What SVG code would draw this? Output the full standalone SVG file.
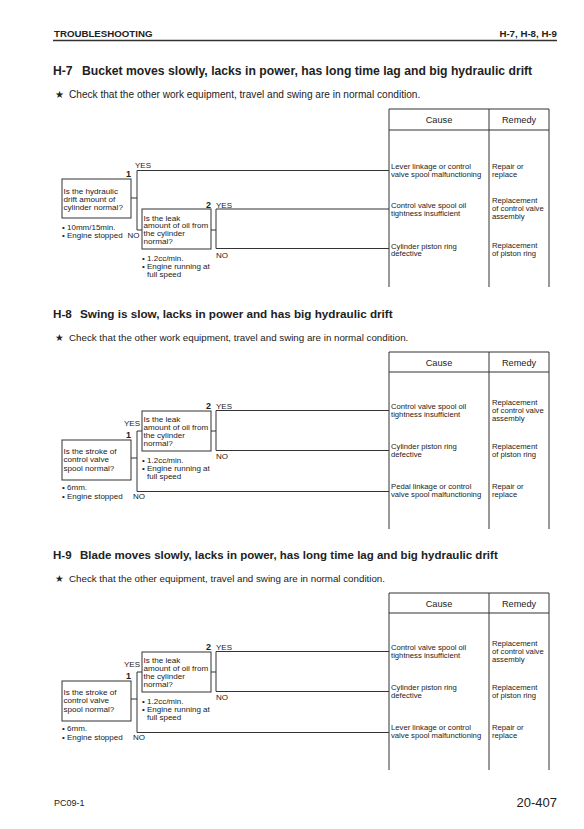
<svg xmlns="http://www.w3.org/2000/svg" width="584" height="829" viewBox="0 0 584 829">
<style>
text{font-family:"Liberation Sans",Arial,"DejaVu Sans",sans-serif;fill:#222}
.hd{font-size:9.7px;font-weight:bold}
.ti{font-size:11.7px;font-weight:bold}
.st{font-size:9.75px}
.sm{font-size:8px}
.bx{font-size:8.1px}
.num{font-size:9px;font-weight:bold}
.th{font-size:9.2px}
.ca{font-size:7.7px}
.re{font-size:7.7px}
.ln{fill:none;stroke:#333;stroke-width:1}
.box{fill:#fff;stroke:#333;stroke-width:1}
.e{text-anchor:end}
.m{text-anchor:middle}
</style>
<rect width="584" height="829" fill="#fff"/>
<g id="header">
<text class="hd" x="54" y="37">TROUBLESHOOTING</text>
<text class="hd e" x="557" y="37">H-7, H-8, H-9</text>
<line x1="53" y1="40.5" x2="557" y2="40.5" stroke="#333" stroke-width="1.3"/>
</g>

<!-- H-7 -->
<g id="sec-h7" transform="translate(0,109)">
<text class="ti" style="font-size:12.2px" x="53" y="-34.5">H-7<tspan x="82">Bucket moves slowly, lacks in power, has long time lag and big hydraulic drift</tspan></text>
<text class="st" style="font-size:10.1px" x="55" y="-11">★<tspan x="69">Check that the other work equipment, travel and swing are in normal condition.</tspan></text>
<g id="h7-table">
<path class="ln" d="M389,0H549M389,21H549M389,0V178M489,0V178M549,0V178"/>
<text class="th m" x="439" y="14">Cause</text>
<text class="th m" x="519" y="14">Remedy</text>
</g>
<g id="h7-connectors">
<path class="ln" d="M131,89H137M137,61.5V121M137,61.5H389M137,121H142M211,121H216M216,100V139.5M216,100H389M216,139.5H389"/>
<text class="sm" x="135" y="59">YES</text>
<text class="sm" x="127.5" y="129">NO</text>
<text class="sm" x="216" y="98.5">YES</text>
<text class="sm" x="216" y="149">NO</text>
</g>
<g id="h7-q1">
<rect class="box" x="62" y="70" width="69" height="39"/>
<text class="num e" x="131" y="68">1</text>
<text class="bx" x="63.5" y="84.5">Is the hydraulic</text>
<text class="bx" x="63.5" y="92.7">drift amount of</text>
<text class="bx" x="63.5" y="100.7">cylinder normal?</text>
<text class="sm" x="62" y="121">• 10mm/15min.</text>
<text class="sm" x="62" y="129">• Engine stopped</text>
</g>
<g id="h7-q2">
<rect class="box" x="142" y="100" width="69" height="40"/>
<text class="num e" x="211" y="98.5">2</text>
<text class="bx" x="143.5" y="111.5">Is the leak</text>
<text class="bx" x="143.5" y="119.3">amount of oil from</text>
<text class="bx" x="143.5" y="127">the cylinder</text>
<text class="bx" x="143.5" y="134.7">normal?</text>
<text class="sm" x="142" y="152">• 1.2cc/min.</text>
<text class="sm" x="142" y="160">• Engine running at</text>
<text class="sm" x="147" y="168">full speed</text>
</g>
<g id="h7-r1">
<text class="ca" x="391" y="59.5">Lever linkage or control</text>
<text class="ca" x="391" y="67.5">valve spool malfunctioning</text>
<text class="re" x="492" y="59.5">Repair or</text>
<text class="re" x="492" y="67.5">replace</text>
</g>
<g id="h7-r2">
<text class="ca" x="391" y="98.8">Control valve spool oil</text>
<text class="ca" x="391" y="106.6">tightness insufficient</text>
<text class="re" x="492" y="94">Replacement</text>
<text class="re" x="492" y="102">of control valve</text>
<text class="re" x="492" y="110">assembly</text>
</g>
<g id="h7-r3">
<text class="ca" x="391" y="139.8">Cylinder piston ring</text>
<text class="ca" x="391" y="147.2">defective</text>
<text class="re" x="492" y="139">Replacement</text>
<text class="re" x="492" y="146.5">of piston ring</text>
</g>
</g>

<!-- H-8 -->
<g id="sec-h8" transform="translate(0,352)">
<text class="ti" x="53" y="-34.5">H-8<tspan x="80">Swing is slow, lacks in power and has big hydraulic drift</tspan></text>
<text class="st" x="55" y="-11">★<tspan x="69">Check that the other work equipment, travel and swing are in normal condition.</tspan></text>
<g id="h8-table">
<path class="ln" d="M389,0H549M389,20H549M389,0V177M489,0V177M549,0V177"/>
<text class="th m" x="439" y="13.5">Cause</text>
<text class="th m" x="519" y="13.5">Remedy</text>
</g>
<g id="h8-connectors">
<path class="ln" d="M131,106H137M137,79V139.5M137,79H142M137,139.5H389M211,79H216M216,58.5V98.5M216,58.5H389M216,98.5H389"/>
<text class="sm" x="124" y="74">YES</text>
<text class="sm" x="133" y="147">NO</text>
<text class="sm" x="216" y="57">YES</text>
<text class="sm" x="216" y="107">NO</text>
</g>
<g id="h8-q1">
<rect class="box" x="62" y="88" width="69" height="40"/>
<text class="num e" x="131" y="86">1</text>
<text class="bx" x="63.5" y="101.8">Is the stroke of</text>
<text class="bx" x="63.5" y="110.3">control valve</text>
<text class="bx" x="63.5" y="118.8">spool normal?</text>
<text class="sm" x="62" y="138">• 6mm.</text>
<text class="sm" x="62" y="147">• Engine stopped</text>
</g>
<g id="h8-q2">
<rect class="box" x="142" y="59" width="69" height="40"/>
<text class="num e" x="211" y="57">2</text>
<text class="bx" x="143.5" y="69.8">Is the leak</text>
<text class="bx" x="143.5" y="77.8">amount of oil from</text>
<text class="bx" x="143.5" y="85.8">the cylinder</text>
<text class="bx" x="143.5" y="93.8">normal?</text>
<text class="sm" x="142" y="111">• 1.2cc/min.</text>
<text class="sm" x="142" y="119">• Engine running at</text>
<text class="sm" x="147" y="127">full speed</text>
</g>
<g id="h8-r1">
<text class="ca" x="391" y="57.3">Control valve spool oil</text>
<text class="ca" x="391" y="65.3">tightness insufficient</text>
<text class="re" x="492" y="53">Replacement</text>
<text class="re" x="492" y="61">of control valve</text>
<text class="re" x="492" y="69">assembly</text>
</g>
<g id="h8-r2">
<text class="ca" x="391" y="97.3">Cylinder piston ring</text>
<text class="ca" x="391" y="105.3">defective</text>
<text class="re" x="492" y="97.3">Replacement</text>
<text class="re" x="492" y="105.3">of piston ring</text>
</g>
<g id="h8-r3">
<text class="ca" x="391" y="137.3">Pedal linkage or control</text>
<text class="ca" x="391" y="145.3">valve spool malfunctioning</text>
<text class="re" x="492" y="137.3">Repair or</text>
<text class="re" x="492" y="145.3">replace</text>
</g>
</g>

<!-- H-9 -->
<g id="sec-h9" transform="translate(0,593)">
<text class="ti" style="font-size:11.5px" x="53" y="-34.5">H-9<tspan x="80">Blade moves slowly, lacks in power, has long time lag and big hydraulic drift</tspan></text>
<text class="st" x="55" y="-11">★<tspan x="69">Check that the other equipment, travel and swing are in normal condition.</tspan></text>
<g id="h9-table">
<path class="ln" d="M389,0H549M389,20H549M389,0V177M489,0V177M549,0V177"/>
<text class="th m" x="439" y="13.5">Cause</text>
<text class="th m" x="519" y="13.5">Remedy</text>
</g>
<g id="h9-connectors">
<path class="ln" d="M131,106H137M137,79V139.5M137,79H142M137,139.5H389M211,79H216M216,58.5V98.5M216,58.5H389M216,98.5H389"/>
<text class="sm" x="124" y="74">YES</text>
<text class="sm" x="133" y="147">NO</text>
<text class="sm" x="216" y="57">YES</text>
<text class="sm" x="216" y="107">NO</text>
</g>
<g id="h9-q1">
<rect class="box" x="62" y="88" width="69" height="40"/>
<text class="num e" x="131" y="86">1</text>
<text class="bx" x="63.5" y="101.8">Is the stroke of</text>
<text class="bx" x="63.5" y="110.3">control valve</text>
<text class="bx" x="63.5" y="118.8">spool normal?</text>
<text class="sm" x="62" y="138">• 6mm.</text>
<text class="sm" x="62" y="147">• Engine stopped</text>
</g>
<g id="h9-q2">
<rect class="box" x="142" y="59" width="69" height="40"/>
<text class="num e" x="211" y="57">2</text>
<text class="bx" x="143.5" y="69.8">Is the leak</text>
<text class="bx" x="143.5" y="77.8">amount of oil from</text>
<text class="bx" x="143.5" y="85.8">the cylinder</text>
<text class="bx" x="143.5" y="93.8">normal?</text>
<text class="sm" x="142" y="111">• 1.2cc/min.</text>
<text class="sm" x="142" y="119">• Engine running at</text>
<text class="sm" x="147" y="127">full speed</text>
</g>
<g id="h9-r1">
<text class="ca" x="391" y="57.3">Control valve spool oil</text>
<text class="ca" x="391" y="65.3">tightness insufficient</text>
<text class="re" x="492" y="53">Replacement</text>
<text class="re" x="492" y="61">of control valve</text>
<text class="re" x="492" y="69">assembly</text>
</g>
<g id="h9-r2">
<text class="ca" x="391" y="97.3">Cylinder piston ring</text>
<text class="ca" x="391" y="105.3">defective</text>
<text class="re" x="492" y="97.3">Replacement</text>
<text class="re" x="492" y="105.3">of piston ring</text>
</g>
<g id="h9-r3">
<text class="ca" x="391" y="137.3">Lever linkage or control</text>
<text class="ca" x="391" y="145.3">valve spool malfunctioning</text>
<text class="re" x="492" y="137.3">Repair or</text>
<text class="re" x="492" y="145.3">replace</text>
</g>
</g>

<g id="footer">
<text style="font-size:9px" x="54" y="806">PC09-1</text>
<text style="font-size:13px" class="e" x="557" y="807">20-407</text>
</g>
</svg>
